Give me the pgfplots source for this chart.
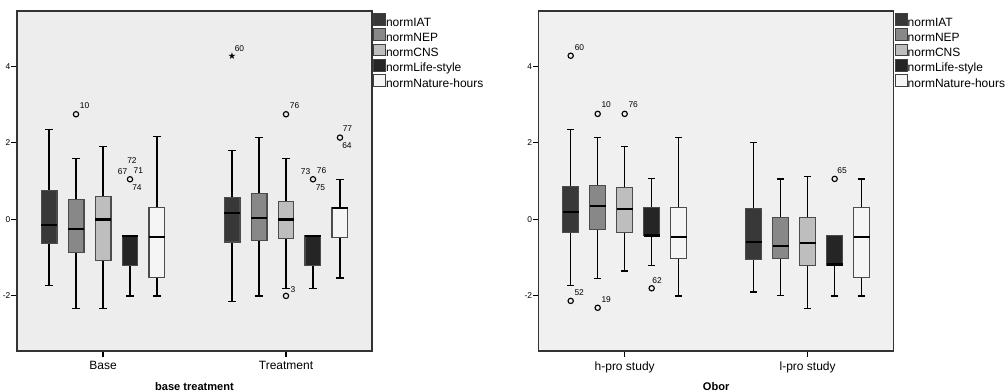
\documentclass[border=0pt]{standalone}
\usepackage{fontspec}
\setmainfont{Liberation Sans}
\newfontfamily\symfont{DejaVu Sans}
\usepackage{pgfplots}
\pgfplotsset{compat=1.18}
\usepgfplotslibrary{statistics}
\definecolor{cIAT}{HTML}{383838}
\definecolor{cNEP}{HTML}{888888}
\definecolor{cCNS}{HTML}{BEBEBE}
\definecolor{cLife}{HTML}{252525}
\definecolor{cNat}{HTML}{F5F5F5}
\definecolor{bgL}{HTML}{EDEDED}
\definecolor{bgR}{HTML}{F0F0F0}
\newcommand{\lab}{\fontsize{6.3}{7}\selectfont}
\newcommand{\bx}[7]{\addplot[forget plot, boxplot/draw direction=y, boxplot prepared={draw position=#1, lower whisker=#2, lower quartile=#3, median=#4, upper quartile=#5, upper whisker=#6, box extend=0.087, whisker extend=0.04, every box/.style={fill=#7, draw=black!70, line width=0.8pt}, every median/.style={black, line width=1.6pt}, every whisker/.style={black, line width=1pt}}] coordinates {};}
\newcommand{\ol}[4]{\node[font=\lab, inner sep=0pt, xshift=#3, yshift=#4] at (axis cs:#1) {#2};}
\pgfplotsset{
  spssaxis/.style={
    scale only axis, width=266.25pt, height=255pt,
    anchor=south west,
    xmin=-0.47, xmax=1.47, ymin=-3.44, ymax=5.45,
    xtick={0,1}, ytick={-2,0,2,4}, yticklabels={-2,0,2,4},
    /pgf/number format/assume math mode=true,
    xtick pos=bottom, ytick pos=left, tick align=outside,
    major tick length=4.2pt,
    tick style={black, line width=0.8pt},
    axis line style={black!80, line width=0.9pt},
    yticklabel style={font=\lab, inner sep=0.6pt},
    xticklabel style={font=\fontsize{9}{10}\selectfont, inner sep=0pt, yshift=-3.5pt},
    xlabel style={font=\bfseries\fontsize{8.3}{9}\selectfont, at={(axis description cs:0.5,0)}, anchor=center, yshift=-27pt},
    legend style={at={(1,1)}, anchor=north west, draw=none, fill=none, inner sep=0pt, outer sep=0pt, yshift=-1.7pt, xshift=1pt,
      font=\fontsize{9}{10}\selectfont, row sep=-1.8pt,
      nodes={inner sep=0pt, text height=9pt, text depth=3.2pt},
      /tikz/every even column/.append style={column sep=1.2pt}},
    legend cell align=left,
    legend image code/.code={\draw[##1, draw=black!75, line width=0.7pt] (0pt,-2.2pt) rectangle (8.8pt,6.7pt);},
  }
}
\begin{document}
\begin{tikzpicture}
\path[use as bounding box] (0,0) rectangle (755.25pt,294pt);
% ---------------- left panel ----------------
\begin{axis}[spssaxis, at={(12.75pt,30.75pt)}, axis background/.style={fill=bgL},
  xticklabels={Base,Treatment}, xlabel={base  treatment}]
\addlegendimage{fill=cIAT}\addlegendentry{normIAT}
\addlegendimage{fill=cNEP}\addlegendentry{normNEP}
\addlegendimage{fill=cCNS}\addlegendentry{normCNS}
\addlegendimage{fill=cLife}\addlegendentry{normLife-style}
\addlegendimage{fill=cNat}\addlegendentry{normNature-hours}
% Base
\bx{-0.295}{-1.72}{-0.63}{-0.14}{0.75}{2.35}{cIAT}
\bx{-0.1475}{-2.33}{-0.87}{-0.24}{0.53}{1.60}{cNEP}
\bx{0}{-2.33}{-1.08}{0.0}{0.60}{1.90}{cCNS}
\bx{0.1475}{-2.0}{-1.21}{-0.43}{-0.43}{-0.43}{cLife}
\bx{0.295}{-2.0}{-1.53}{-0.46}{0.31}{2.16}{cNat}
% Treatment
\bx{0.705}{-2.14}{-0.59}{0.16}{0.57}{1.80}{cIAT}
\bx{0.8525}{-2.0}{-0.54}{0.03}{0.68}{2.15}{cNEP}
\bx{1}{-1.80}{-0.49}{0.0}{0.48}{1.59}{cCNS}
\bx{1.1475}{-1.80}{-1.21}{-0.43}{-0.43}{-0.43}{cLife}
\bx{1.295}{-1.53}{-0.47}{0.30}{0.30}{1.05}{cNat}
\addplot[forget plot, only marks, mark=o, mark size=2pt, mark options={black, line width=0.85pt}] coordinates {
(-0.1475,2.75) (0.1475,1.05) (1,2.75) (1,-2.0) (1.1475,1.05) (1.295,2.14)};
\addplot[forget plot, only marks, mark=text, text mark as node=true, text mark={\symfont\fontsize{7}{7}\selectfont ★}, mark options={black}] coordinates {(0.705,4.27)};
\ol{-0.1475,2.75}{10}{6.4pt}{6.75pt}
\ol{0.1475,1.05}{72}{1.5pt}{14.25pt}
\ol{0.1475,1.05}{67}{-5.6pt}{6pt}
\ol{0.1475,1.05}{71}{6.2pt}{6.75pt}
\ol{0.1475,1.05}{74}{5.25pt}{-6pt}
\ol{0.705,4.27}{60}{5.6pt}{6pt}
\ol{1,2.75}{76}{6.4pt}{6.75pt}
\ol{1,-2.0}{3}{5.25pt}{4.5pt}
\ol{1.1475,1.05}{73}{-5.6pt}{6pt}
\ol{1.1475,1.05}{76}{6.4pt}{6.75pt}
\ol{1.1475,1.05}{75}{5.6pt}{-6pt}
\ol{1.295,2.14}{77}{5.6pt}{6.75pt}
\ol{1.295,2.14}{64}{5.25pt}{-6pt}
\end{axis}
% ---------------- right panel ----------------
\begin{axis}[spssaxis, at={(404pt,30.75pt)}, axis background/.style={fill=bgR},
  xticklabels={h-pro study,l-pro study}, xlabel={Obor}]
\addlegendimage{fill=cIAT}\addlegendentry{normIAT}
\addlegendimage{fill=cNEP}\addlegendentry{normNEP}
\addlegendimage{fill=cCNS}\addlegendentry{normCNS}
\addlegendimage{fill=cLife}\addlegendentry{normLife-style}
\addlegendimage{fill=cNat}\addlegendentry{normNature-hours}
% h-pro
\bx{-0.295}{-1.73}{-0.34}{0.19}{0.86}{2.36}{cIAT}
\bx{-0.1475}{-1.55}{-0.26}{0.35}{0.89}{2.15}{cNEP}
\bx{0}{-1.35}{-0.34}{0.27}{0.84}{1.90}{cCNS}
\bx{0.1475}{-1.21}{-0.43}{-0.42}{0.32}{1.07}{cLife}
\bx{0.295}{-2.0}{-1.01}{-0.47}{0.31}{2.15}{cNat}
% l-pro
\bx{0.705}{-1.90}{-1.05}{-0.59}{0.29}{2.01}{cIAT}
\bx{0.8525}{-1.99}{-1.02}{-0.69}{0.04}{1.06}{cNEP}
\bx{1}{-2.33}{-1.21}{-0.61}{0.04}{1.12}{cCNS}
\bx{1.1475}{-2.0}{-1.21}{-1.18}{-0.42}{-0.42}{cLife}
\bx{1.295}{-2.0}{-1.53}{-0.46}{0.31}{1.06}{cNat}
\addplot[forget plot, only marks, mark=o, mark size=2pt, mark options={black, line width=0.85pt}] coordinates {
(-0.295,4.28) (-0.295,-2.13) (-0.1475,2.76) (-0.1475,-2.31) (0,2.76) (0.1475,-1.80) (1.1475,1.06)};
\ol{-0.295,4.28}{60}{6.6pt}{6pt}
\ol{-0.295,-2.13}{52}{6.4pt}{6pt}
\ol{-0.1475,2.76}{10}{6.4pt}{6.75pt}
\ol{-0.1475,-2.31}{19}{6.4pt}{6pt}
\ol{0,2.76}{76}{6.4pt}{6.75pt}
\ol{0.1475,-1.80}{62}{4.1pt}{5.6pt}
\ol{1.1475,1.06}{65}{5.6pt}{6.4pt}
\end{axis}
\end{tikzpicture}
\end{document}
